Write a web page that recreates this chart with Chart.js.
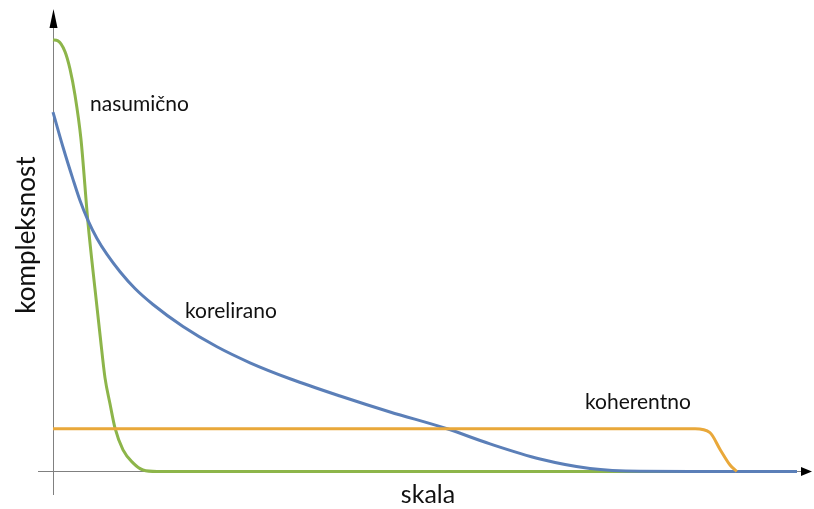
<!DOCTYPE html>
<html>
<head>
<meta charset="utf-8">
<script src="https://cdn.jsdelivr.net/npm/chart.js@4/dist/chart.umd.min.js"></script>
<style>
  body { margin: 0; background: #fff; }
  canvas { display: block; }
</style>
</head>
<body>
<canvas id="myChart" width="814" height="509"></canvas>
<script>
// curve values (x = scale 0..100, y = complexity 0..100)
var randomX = [0, 0.67, 1.61, 2.28, 2.96, 3.76, 4.70, 5.65, 6.32, 6.99, 7.66, 8.33, 9.41, 10.75, 12.10, 13.98, 100];
var randomY = [100, 99.8, 97.3, 93.3, 87.2, 77.0, 57.7, 42.2, 31.7, 21.7, 15.7, 10.1, 5.0, 2.0, 0.35, 0, 0];

var correlatedX = [0, 1.34, 2.69, 3.63, 4.70, 5.91, 7.26, 9.01, 11.02, 13.44, 17.47, 22.04,
    26.48, 31.85, 38.58, 45.30, 52.96, 58.74, 65.46, 72.18, 78.90, 85.62, 100];
var correlatedY = [83.3, 75.2, 67.7, 62.8, 58.2, 54.0, 50.3, 46.3, 42.4, 38.7, 33.6, 28.9,
    25.2, 21.5, 17.5, 13.8, 9.9, 6.4, 2.9, 0.7, 0.05, 0, 0];

var coherentX = [0, 86.3, 88.3, 89.7, 91.0, 91.9];
var coherentY = [9.9, 9.9, 9.0, 5.0, 1.5, 0];

var seriesLabels = ['nasumično', 'korelirano', 'koherentno'];
var xTitle = 'skala';
var yTitle = 'kompleksnost';

function toPoints(xs, ys) {
    var pts = [];
    for (var i = 0; i < xs.length; i++) {
        pts.push({x: xs[i], y: ys[i]});
    }
    return pts;
}

var labelFont = '21px Lato, "Open Sans", sans-serif';

// axes with arrow heads, plus the in-plot labels
var decorations = {
    id: 'decorations',
    beforeDatasetsDraw: function(chart) {
        var ctx = chart.ctx;
        var x0 = chart.scales.x.getPixelForValue(0);
        var y0 = chart.scales.y.getPixelForValue(0);
        var right = chart.chartArea.right;
        ctx.save();
        ctx.strokeStyle = '#808080';
        ctx.lineWidth = 1;
        ctx.beginPath();
        ctx.moveTo(x0 + 0.5, 495);
        ctx.lineTo(x0 + 0.5, 26);
        ctx.moveTo(38, y0);
        ctx.lineTo(right + 8, y0);
        ctx.stroke();
        ctx.fillStyle = '#000';
        ctx.beginPath();
        ctx.moveTo(x0 + 0.5, 9);
        ctx.lineTo(x0 + 4.5, 28);
        ctx.lineTo(x0 - 3.5, 28);
        ctx.closePath();
        ctx.fill();
        ctx.beginPath();
        ctx.moveTo(812, y0);
        ctx.lineTo(801, y0 - 4.5);
        ctx.lineTo(801, y0 + 4.5);
        ctx.closePath();
        ctx.fill();
        ctx.restore();
    },
    afterDatasetsDraw: function(chart) {
        var ctx = chart.ctx;
        ctx.save();
        ctx.fillStyle = '#111';
        ctx.textBaseline = 'middle';
        ctx.textAlign = 'left';
        ctx.font = labelFont;
        ctx.fillText(seriesLabels[0], 90, 104);
        ctx.fillText(seriesLabels[1], 185, 311);
        ctx.fillText(seriesLabels[2], 585, 402);
        ctx.textAlign = 'center';
        ctx.font = '25px Lato, "Open Sans", sans-serif';
        ctx.fillText(xTitle, 428, 495);
        ctx.font = '26px Lato, "Open Sans", sans-serif';
        ctx.translate(27, 235);
        ctx.rotate(-Math.PI / 2);
        ctx.fillText(yTitle, 0, 0);
        ctx.restore();
    }
};

var ctx = document.getElementById('myChart').getContext('2d');
var myChart = new Chart(ctx, {
    type: 'line',
    data: {
        datasets: [{
            label: seriesLabels[2],
            data: toPoints(coherentX, coherentY),
            borderColor: '#e9a83a',
            borderWidth: 3,
            pointRadius: 0,
            cubicInterpolationMode: 'monotone',
            clip: false
        }, {
            label: seriesLabels[1],
            data: toPoints(correlatedX, correlatedY),
            borderColor: '#5b7fb8',
            borderWidth: 3,
            pointRadius: 0,
            cubicInterpolationMode: 'monotone',
            clip: false
        }, {
            label: seriesLabels[0],
            data: toPoints(randomX, randomY),
            borderColor: '#8db54a',
            borderWidth: 3,
            pointRadius: 0,
            cubicInterpolationMode: 'monotone',
            clip: false
        }]
    },
    options: {
        responsive: false,
        animation: false,
        devicePixelRatio: 1,
        layout: {
            padding: {left: 53, top: 40, right: 17, bottom: 37.5}
        },
        scales: {
            x: {type: 'linear', min: 0, max: 100, display: false},
            y: {type: 'linear', min: 0, max: 100, display: false}
        },
        plugins: {
            legend: {display: false},
            tooltip: {enabled: false}
        }
    },
    plugins: [decorations]
});
</script>
</body>
</html>
